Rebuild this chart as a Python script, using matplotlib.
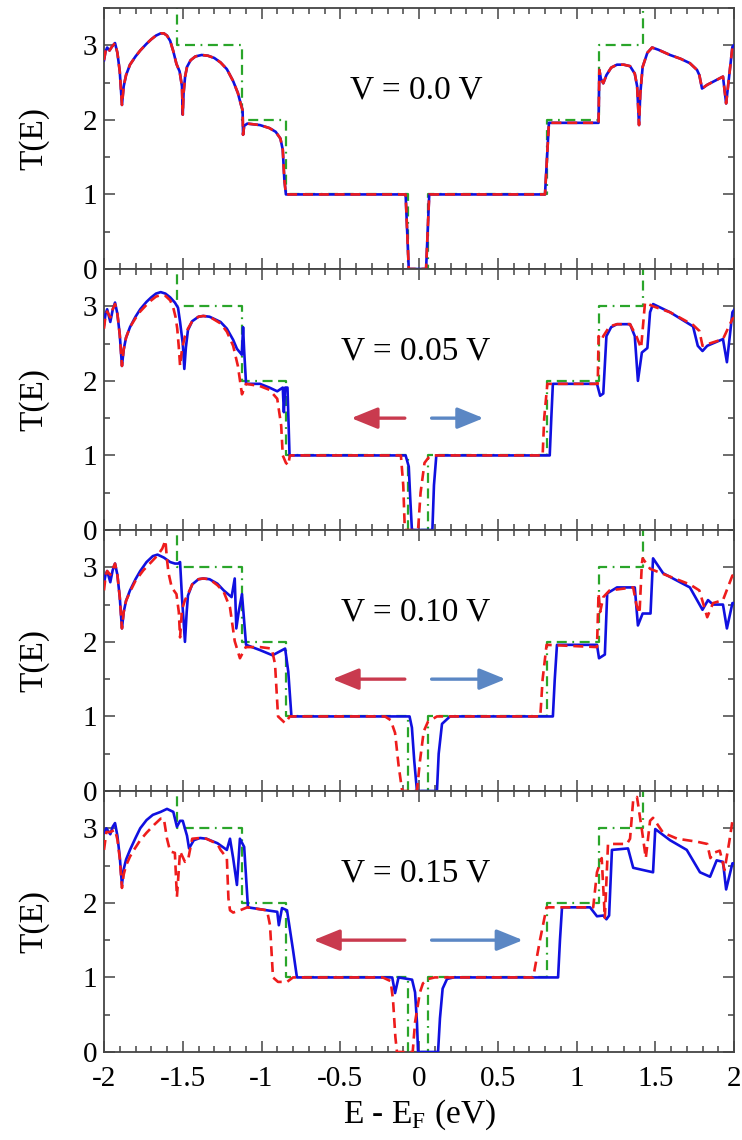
import matplotlib
matplotlib.use("Agg")
import matplotlib.pyplot as plt
from matplotlib.ticker import MultipleLocator

plt.rcParams['font.family'] = ['Liberation Serif', 'DejaVu Serif']
plt.rcParams['mathtext.fontset'] = 'custom'
plt.rcParams['mathtext.rm'] = 'Liberation Serif'

# ---------------- data ----------------
bias_labels = ["V = 0.0 V", "V = 0.05 V", "V = 0.10 V", "V = 0.15 V"]

# ideal (pristine) step transmission, green dash-dot
ideal_E = [-2.0, -1.535, -1.535, -1.125, -1.125, -0.845, -0.845, -0.07, -0.07,
           0.055, 0.055, 0.815, 0.815, 1.145, 1.145, 1.42, 1.42, 2.0]
ideal_T = [4, 4, 3, 3, 2, 2, 1, 1, 0, 0, 1, 1, 2, 2, 3, 3, 4, 4]

# V = 0.0 V (blue and red coincide)
v00 = [(-2.00, 2.80), (-1.99, 2.92), (-1.98, 2.97), (-1.965, 2.93), (-1.95, 2.98),
       (-1.93, 3.03), (-1.915, 2.90), (-1.90, 2.65), (-1.886, 2.20), (-1.875, 2.45),
       (-1.86, 2.60), (-1.835, 2.74), (-1.80, 2.85), (-1.77, 2.93), (-1.73, 3.02),
       (-1.70, 3.08), (-1.67, 3.13), (-1.64, 3.16), (-1.62, 3.16), (-1.60, 3.13),
       (-1.58, 3.06), (-1.56, 2.92), (-1.54, 2.75), (-1.52, 2.65), (-1.505, 2.45),
       (-1.50, 2.07), (-1.495, 2.35), (-1.485, 2.58), (-1.473, 2.71), (-1.45, 2.80),
       (-1.42, 2.85), (-1.38, 2.87), (-1.34, 2.86), (-1.30, 2.83), (-1.26, 2.77),
       (-1.22, 2.68), (-1.18, 2.52), (-1.15, 2.36), (-1.13, 2.20), (-1.12, 2.13),
       (-1.117, 1.80), (-1.11, 1.92), (-1.09, 1.95), (-1.01, 1.93), (-0.95, 1.89),
       (-0.91, 1.84), (-0.88, 1.75), (-0.865, 1.60), (-0.855, 1.20), (-0.845, 1.00),
       (-0.085, 1.00), (-0.075, 0.50), (-0.065, 0.00), (0.045, 0.00), (0.055, 0.50),
       (0.065, 1.00), (0.80, 1.00), (0.813, 1.50), (0.825, 1.96), (1.140, 1.96),
       (1.145, 2.67), (1.155, 2.55), (1.17, 2.49), (1.19, 2.60), (1.22, 2.70),
       (1.257, 2.74), (1.30, 2.74), (1.34, 2.72), (1.37, 2.62), (1.385, 2.45),
       (1.397, 1.93), (1.405, 2.35), (1.42, 2.71), (1.45, 2.90), (1.48, 2.97),
       (1.52, 2.94), (1.594, 2.87), (1.66, 2.82), (1.72, 2.76), (1.765, 2.67),
       (1.78, 2.60), (1.797, 2.42), (1.83, 2.47), (1.93, 2.58), (1.95, 2.22),
       (1.99, 2.98), (2.00, 3.00)]

# V = 0.05 V
v05_blue = [(-2.00, 2.75), (-1.99, 2.90), (-1.98, 2.96), (-1.96, 2.79), (-1.945, 2.95),
            (-1.93, 3.05), (-1.915, 2.90), (-1.90, 2.62), (-1.886, 2.20), (-1.875, 2.42),
            (-1.86, 2.58), (-1.835, 2.72), (-1.80, 2.86), (-1.77, 2.96), (-1.73, 3.06),
            (-1.70, 3.12), (-1.67, 3.17), (-1.64, 3.19), (-1.61, 3.17), (-1.58, 3.12),
            (-1.55, 3.05), (-1.53, 2.98), (-1.517, 2.79), (-1.50, 2.50), (-1.49, 2.16),
            (-1.48, 2.45), (-1.467, 2.68), (-1.44, 2.80), (-1.40, 2.86), (-1.37, 2.87),
            (-1.33, 2.86), (-1.26, 2.79), (-1.22, 2.70), (-1.18, 2.55), (-1.156, 2.43),
            (-1.125, 2.35), (-1.117, 2.72), (-1.11, 2.40), (-1.098, 1.96), (-1.01, 1.96),
            (-0.95, 1.91), (-0.90, 1.86), (-0.865, 1.91), (-0.858, 1.58), (-0.850, 1.91),
            (-0.835, 1.91), (-0.822, 1.00), (-0.085, 1.00), (-0.065, 0.85), (-0.055, 0.40),
            (-0.045, 0.00), (0.085, 0.00), (0.095, 0.60), (0.11, 1.00), (0.83, 1.00),
            (0.84, 1.50), (0.85, 1.96), (1.13, 1.96), (1.15, 1.80), (1.17, 1.83),
            (1.19, 2.60), (1.22, 2.72), (1.257, 2.76), (1.34, 2.76), (1.37, 2.60),
            (1.39, 2.00), (1.415, 2.38), (1.45, 2.44), (1.467, 2.92), (1.486, 3.03),
            (1.594, 2.92), (1.74, 2.73), (1.77, 2.47), (1.80, 2.40), (1.83, 2.47),
            (1.93, 2.56), (1.955, 2.25), (1.99, 2.92), (2.00, 2.95)]
v05_red = [(-2.00, 2.70), (-1.99, 2.88), (-1.98, 2.93), (-1.96, 2.85), (-1.945, 2.96),
           (-1.93, 3.03), (-1.915, 2.90), (-1.90, 2.62), (-1.886, 2.20), (-1.875, 2.42),
           (-1.86, 2.58), (-1.835, 2.72), (-1.80, 2.84), (-1.77, 2.93), (-1.73, 3.02),
           (-1.70, 3.08), (-1.67, 3.13), (-1.64, 3.15), (-1.61, 3.14), (-1.58, 3.08),
           (-1.56, 2.98), (-1.545, 2.85), (-1.535, 2.70), (-1.525, 2.45), (-1.517, 2.20),
           (-1.505, 2.42), (-1.486, 2.60), (-1.467, 2.70), (-1.44, 2.80), (-1.40, 2.86),
           (-1.37, 2.87), (-1.33, 2.86), (-1.26, 2.77), (-1.22, 2.66), (-1.18, 2.47),
           (-1.15, 2.20), (-1.124, 1.82), (-1.098, 1.96), (-1.01, 1.93), (-0.95, 1.88),
           (-0.90, 1.76), (-0.875, 1.40), (-0.865, 1.00), (-0.845, 0.90), (-0.83, 0.87),
           (-0.82, 1.00), (-0.115, 1.00), (-0.10, 0.60), (-0.09, 0.00), (-0.006, 0.00),
           (0.01, 0.50), (0.035, 0.90), (0.06, 0.97), (0.09, 1.00), (0.785, 1.00),
           (0.795, 1.50), (0.815, 1.96), (1.135, 1.96), (1.14, 2.60), (1.16, 2.55),
           (1.17, 2.60), (1.21, 2.73), (1.257, 2.76), (1.34, 2.76), (1.38, 2.60),
           (1.41, 2.44), (1.435, 3.05), (1.486, 3.00), (1.594, 2.92), (1.74, 2.75),
           (1.78, 2.67), (1.80, 2.47), (1.93, 2.56), (1.99, 2.83), (2.00, 2.85)]

# V = 0.10 V
v10_blue = [(-2.00, 2.79), (-1.99, 2.90), (-1.98, 2.95), (-1.96, 2.80), (-1.945, 2.96),
            (-1.93, 3.05), (-1.915, 2.90), (-1.90, 2.60), (-1.886, 2.18), (-1.875, 2.40),
            (-1.86, 2.55), (-1.835, 2.69), (-1.80, 2.84), (-1.77, 2.95), (-1.73, 3.07),
            (-1.69, 3.15), (-1.66, 3.17), (-1.62, 3.13), (-1.58, 3.07), (-1.55, 3.05),
            (-1.53, 3.05), (-1.517, 3.07), (-1.505, 2.60), (-1.486, 2.00), (-1.475, 2.40),
            (-1.467, 2.62), (-1.44, 2.77), (-1.40, 2.84), (-1.37, 2.85), (-1.33, 2.84),
            (-1.28, 2.78), (-1.24, 2.69), (-1.19, 2.60), (-1.17, 2.85), (-1.16, 2.18),
            (-1.145, 2.40), (-1.124, 2.64), (-1.098, 1.96), (-1.01, 1.89), (-0.93, 1.82),
            (-0.85, 1.91), (-0.83, 1.60), (-0.81, 1.00), (-0.06, 1.00), (-0.045, 0.85),
            (-0.03, 0.40), (-0.013, 0.00), (0.114, 0.00), (0.125, 0.50), (0.146, 0.90),
            (0.197, 1.00), (0.85, 1.00), (0.862, 1.50), (0.876, 1.96), (1.13, 1.96),
            (1.143, 1.78), (1.18, 1.83), (1.195, 2.65), (1.257, 2.73), (1.37, 2.73),
            (1.39, 2.22), (1.42, 2.38), (1.47, 2.38), (1.486, 3.12), (1.55, 2.92),
            (1.72, 2.73), (1.80, 2.43), (1.835, 2.56), (1.867, 2.50), (1.93, 2.50),
            (1.955, 2.18), (1.99, 2.52), (2.00, 2.52)]
v10_red = [(-2.00, 2.69), (-1.99, 2.88), (-1.98, 2.95), (-1.96, 2.90), (-1.945, 2.98),
           (-1.93, 3.05), (-1.915, 2.90), (-1.90, 2.60), (-1.886, 2.18), (-1.875, 2.40),
           (-1.86, 2.55), (-1.835, 2.67), (-1.80, 2.82), (-1.75, 2.96), (-1.70, 3.07),
           (-1.66, 3.16), (-1.63, 3.25), (-1.61, 3.36), (-1.60, 3.10), (-1.59, 2.92),
           (-1.57, 2.73), (-1.54, 2.64), (-1.525, 2.40), (-1.517, 2.06), (-1.505, 2.43),
           (-1.486, 2.56), (-1.467, 2.64), (-1.44, 2.77), (-1.40, 2.84), (-1.37, 2.85),
           (-1.33, 2.84), (-1.28, 2.76), (-1.24, 2.67), (-1.20, 2.46), (-1.17, 2.01),
           (-1.137, 1.78), (-1.10, 1.93), (-1.01, 1.93), (-0.935, 1.91), (-0.914, 1.70),
           (-0.895, 1.00), (-0.85, 0.91), (-0.82, 1.00), (-0.216, 1.00), (-0.18, 0.95),
           (-0.152, 0.78), (-0.13, 0.35), (-0.107, 0.00), (-0.013, 0.00), (0.006, 0.40),
           (0.03, 0.80), (0.057, 0.93), (0.114, 1.00), (0.77, 1.00), (0.785, 1.50),
           (0.81, 1.96), (1.13, 1.93), (1.14, 2.65), (1.15, 2.40), (1.17, 2.60),
           (1.21, 2.69), (1.36, 2.73), (1.38, 2.50), (1.40, 2.38), (1.415, 3.05),
           (1.42, 3.12), (1.467, 2.98), (1.72, 2.77), (1.78, 2.69), (1.83, 2.33),
           (1.867, 2.52), (1.93, 2.56), (1.99, 2.89), (2.00, 2.90)]

# V = 0.15 V
v15_blue = [(-2.00, 2.94), (-1.985, 3.00), (-1.96, 2.92), (-1.945, 3.02), (-1.93, 3.07),
            (-1.915, 2.90), (-1.90, 2.62), (-1.886, 2.24), (-1.875, 2.45), (-1.86, 2.58),
            (-1.835, 2.71), (-1.80, 2.87), (-1.77, 3.00), (-1.73, 3.11), (-1.69, 3.18),
            (-1.64, 3.22), (-1.60, 3.26), (-1.56, 3.22), (-1.537, 3.02), (-1.517, 3.10),
            (-1.50, 3.10), (-1.473, 2.90), (-1.46, 2.73), (-1.43, 2.84), (-1.39, 2.87),
            (-1.35, 2.86), (-1.28, 2.80), (-1.22, 2.71), (-1.20, 2.86), (-1.18, 2.60),
            (-1.156, 2.24), (-1.137, 2.86), (-1.11, 2.75), (-1.086, 1.94), (-0.965, 1.90),
            (-0.90, 1.88), (-0.89, 1.70), (-0.87, 1.93), (-0.838, 1.90), (-0.80, 1.37),
            (-0.775, 1.00), (-0.17, 1.00), (-0.152, 0.79), (-0.13, 1.00), (-0.044, 0.97),
            (-0.025, 0.80), (-0.013, 0.40), (-0.006, 0.00), (0.121, 0.00), (0.133, 0.45),
            (0.15, 0.85), (0.178, 0.98), (0.22, 1.00), (0.883, 1.00), (0.895, 1.50),
            (0.908, 1.94), (1.086, 1.94), (1.13, 1.82), (1.17, 1.83), (1.19, 1.78),
            (1.207, 1.83), (1.225, 2.71), (1.327, 2.73), (1.36, 2.47), (1.486, 2.41),
            (1.50, 2.99), (1.594, 2.84), (1.70, 2.71), (1.784, 2.41), (1.848, 2.35),
            (1.89, 2.57), (1.93, 2.55), (1.95, 2.18), (1.99, 2.53), (2.00, 2.53)]
v15_red = [(-2.00, 2.71), (-1.985, 2.95), (-1.96, 2.95), (-1.93, 2.98), (-1.915, 2.85),
           (-1.90, 2.60), (-1.886, 2.20), (-1.875, 2.38), (-1.86, 2.50), (-1.835, 2.62),
           (-1.81, 2.71), (-1.77, 2.84), (-1.73, 2.94), (-1.68, 3.05), (-1.64, 3.13),
           (-1.62, 3.13), (-1.60, 2.86), (-1.58, 2.69), (-1.55, 2.67), (-1.537, 2.08),
           (-1.517, 2.69), (-1.486, 2.55), (-1.467, 2.57), (-1.44, 2.86), (-1.39, 2.87),
           (-1.35, 2.86), (-1.28, 2.79), (-1.26, 2.71), (-1.22, 2.60), (-1.21, 2.06),
           (-1.20, 1.90), (-1.18, 1.87), (-1.137, 1.90), (-1.09, 1.94), (-0.965, 1.90),
           (-0.946, 1.70), (-0.927, 1.00), (-0.895, 0.94), (-0.838, 0.94), (-0.80, 1.00),
           (-0.23, 1.00), (-0.18, 0.95), (-0.165, 0.70), (-0.15, 0.20), (-0.14, 0.00),
           (-0.04, 0.00), (-0.025, 0.40), (0.006, 0.80), (0.025, 0.92), (0.06, 0.98),
           (0.10, 1.00), (0.725, 1.00), (0.768, 1.50), (0.81, 1.94), (1.106, 1.94),
           (1.13, 2.41), (1.16, 2.60), (1.18, 1.80), (1.20, 2.79), (1.32, 2.79),
           (1.34, 2.86), (1.36, 3.38), (1.384, 3.42), (1.415, 2.98), (1.44, 2.60),
           (1.467, 3.10), (1.486, 3.14), (1.55, 2.94), (1.64, 2.86), (1.765, 2.82),
           (1.83, 2.79), (1.85, 2.60), (1.87, 2.67), (1.91, 2.70), (1.94, 2.44),
           (1.97, 2.82), (1.99, 3.10), (2.00, 3.12)]

blue_curves = [v00, v05_blue, v10_blue, v15_blue]
red_curves = [v00, v05_red, v10_red, v15_red]

# arrow extents (tail, head) in energy units; None = no arrows
red_arrows = [None, (-0.09, -0.43), (-0.09, -0.55), (-0.09, -0.67)]
blue_arrows = [None, (0.08, 0.41), (0.08, 0.55), (0.08, 0.66)]

# ---------------- figure ----------------
fig = plt.figure(figsize=(7.42, 11.40), dpi=100)
left, right = 104 / 742, 734 / 742
top, bottom = 1 - 8 / 1140, 1 - 1052 / 1140
h = (top - bottom) / 4

BLUE = '#1010e0'
RED = '#ee1c1c'
GREEN = '#2aa52a'
ARED = '#c93a4e'
ABLUE = '#5b87c4'
SPINE = '#444444'

axes = []
for i in range(4):
    ax = fig.add_axes([left, top - (i + 1) * h, right - left, h])
    axes.append(ax)
    ax.plot(ideal_E, ideal_T, color=GREEN, lw=1.6,
            linestyle=(0, (4.5, 2.5, 4.5, 2.5, 0.8, 2.5)), zorder=2)
    bE, bT = zip(*blue_curves[i])
    ax.plot(bE, bT, color=BLUE, lw=1.9, solid_joinstyle='round', zorder=3)
    rE, rT = zip(*red_curves[i])
    ax.plot(rE, rT, color=RED, lw=1.9, linestyle=(0, (3.8, 2.2)), zorder=4)

    ax.set_xlim(-2, 2)
    ax.set_ylim(0, 3.5)
    ax.xaxis.set_major_locator(MultipleLocator(0.5))
    ax.xaxis.set_minor_locator(MultipleLocator(0.1))
    ax.yaxis.set_major_locator(MultipleLocator(1))
    ax.yaxis.set_minor_locator(MultipleLocator(0.5))
    ax.tick_params(which='both', direction='in', top=True, right=True,
                   color=SPINE, width=1.1, labelsize=21, pad=5)
    ax.tick_params(axis='x', pad=10)
    ax.tick_params(which='major', length=8)
    ax.tick_params(which='minor', length=4)
    for s in ax.spines.values():
        s.set_color(SPINE)
        s.set_linewidth(1.3)
    ax.set_ylabel('T(E)', fontsize=24, labelpad=24)
    if i < 3:
        ax.tick_params(labelbottom=False)

    ax.text(-0.02, 2.40, bias_labels[i], fontsize=24, ha='center', va='center')

    if red_arrows[i] is not None:
        t, hd = red_arrows[i]
        ax.annotate('', xy=(hd, 1.5), xytext=(t, 1.5),
                    arrowprops=dict(arrowstyle='-|>,head_length=1.6,head_width=0.65',
                                    color=ARED, lw=2.4, mutation_scale=10,
                                    shrinkA=0, shrinkB=0))
        t, hd = blue_arrows[i]
        ax.annotate('', xy=(hd, 1.5), xytext=(t, 1.5),
                    arrowprops=dict(arrowstyle='-|>,head_length=1.6,head_width=0.65',
                                    color=ABLUE, lw=2.4, mutation_scale=10,
                                    shrinkA=0, shrinkB=0))

axes[-1].set_xticks([-2, -1.5, -1, -0.5, 0, 0.5, 1, 1.5, 2])
axes[-1].set_xticklabels(['-2', '-1.5', '-1', '-0.5', '0', '0.5', '1', '1.5', '2'])
axes[-1].set_xlabel(r'E - E$_\mathregular{F}$ (eV)', fontsize=24, labelpad=4)

fig.savefig('out.png', dpi=100)
